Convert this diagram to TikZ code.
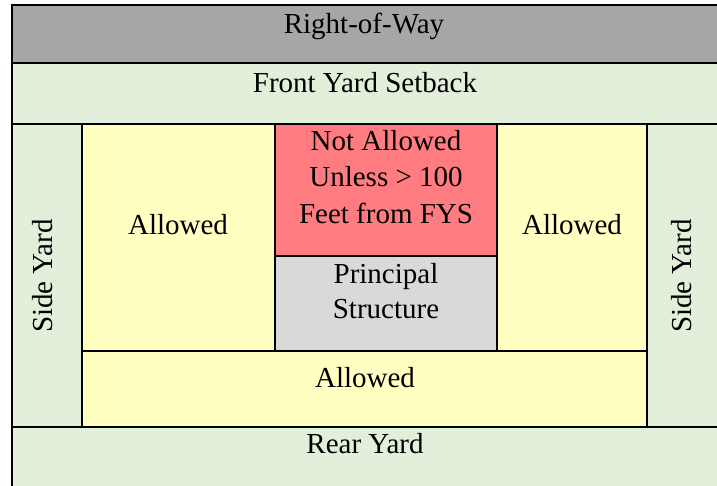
\documentclass[tikz,border=0pt]{standalone}
\usepackage{fontspec}
\setmainfont{Liberation Serif}
\definecolor{waygray}{HTML}{A6A6A6}
\definecolor{yardgreen}{HTML}{E2EFDA}
\definecolor{okyellow}{HTML}{FFFFC1}
\definecolor{nored}{HTML}{FF7C80}
\definecolor{housegray}{HTML}{D9D9D9}
\newcommand{\yardfont}{\fontsize{29}{36.5}\selectfont}

\begin{document}
\begin{tikzpicture}[x=1pt,y=-1pt]
\tikzstyle{cell}=[draw=black,line width=1.6pt]
\tikzstyle{lbl}=[font=\yardfont,anchor=base,inner sep=0pt]
\useasboundingbox (0,0) rectangle (717,485);
\clip (0,0) rectangle (717,485);
% bands across the lot
\filldraw[cell,fill=waygray] (12,5) rectangle (730,63);
\filldraw[cell,fill=yardgreen] (12,63) rectangle (730,124);
\filldraw[cell,fill=yardgreen] (12,427) rectangle (730,500);
% side yards
\filldraw[cell,fill=yardgreen] (12,124) rectangle (82,427);
\filldraw[cell,fill=yardgreen] (647,124) rectangle (730,427);
% middle of the lot
\filldraw[cell,fill=okyellow] (82,124) rectangle (275,351);
\filldraw[cell,fill=nored] (275,124) rectangle (497,256);
\filldraw[cell,fill=housegray] (275,256) rectangle (497,351);
\filldraw[cell,fill=okyellow] (497,124) rectangle (647,351);
\filldraw[cell,fill=okyellow] (82,351) rectangle (647,427);
% labels
\node[lbl] (row) at (364,33) {Right-of-Way};
\node[lbl] (front) at (365,92) {Front Yard Setback};
\node[lbl] (okleft) at (178,234) {Allowed};
\node[lbl] (no1) at (386,150) {Not Allowed};
\node[lbl] (no2) at (386,186.5) {Unless > 100};
\node[lbl] (no3) at (386,223) {Feet from FYS};
\node[lbl] (house1) at (386,283) {Principal};
\node[lbl] (house2) at (386,318) {Structure};
\node[lbl] (okright) at (572,234) {Allowed};
\node[lbl] (okrear) at (365,387) {Allowed};
\node[lbl] (rear) at (365,453) {Rear Yard};
\node[lbl,anchor=center,rotate=90] (sideleft) at (43,276) {Side Yard};
\node[lbl,anchor=center,rotate=90] (sideright) at (682,276) {Side Yard};
\end{tikzpicture}
\end{document}
